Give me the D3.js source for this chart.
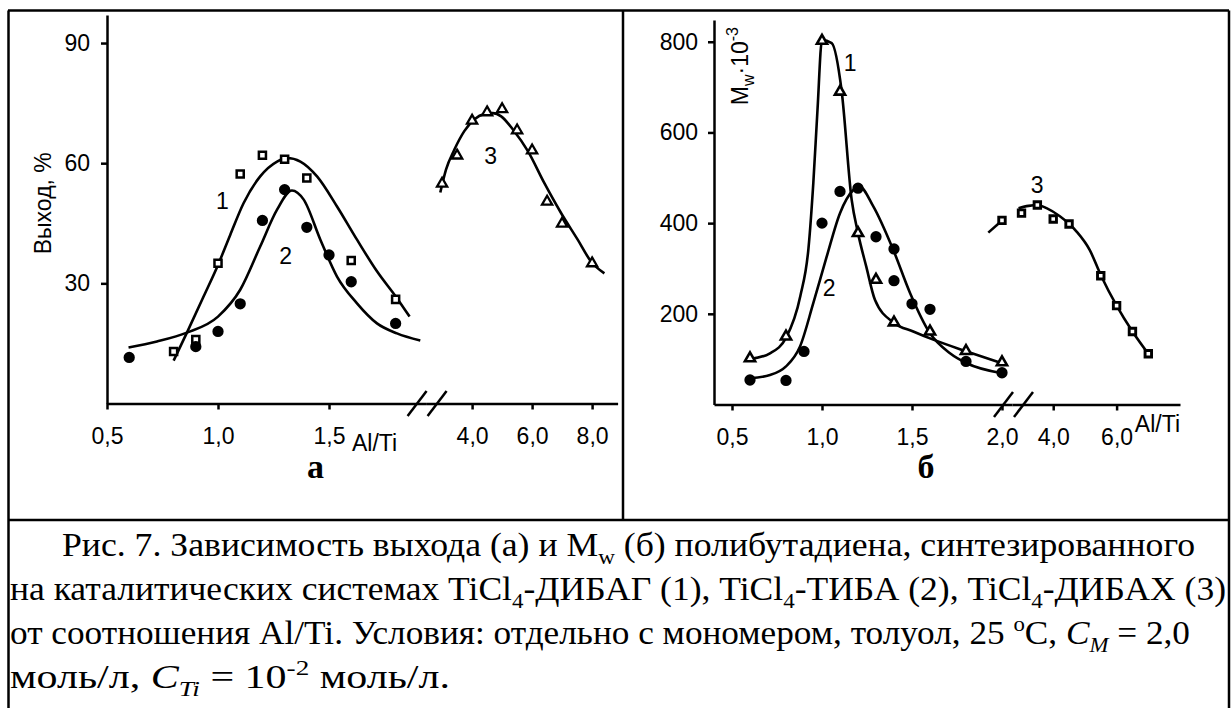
<!DOCTYPE html>
<html>
<head>
<meta charset="utf-8">
<script src="https://cdn.jsdelivr.net/npm/d3@7"></script>
<style>
  body { margin: 0; background: #fff; }
  svg { display: block; }
  .axis path, .axis line { stroke: #000; stroke-width: 2.5px; }
  .axis text { font-family: "Liberation Sans", Arial, sans-serif; font-size: 23px; fill: #000; }
  .lbl { font-family: "Liberation Sans", Arial, sans-serif; font-size: 23px; fill: #000; }
  .cap { font-family: "Liberation Serif", "Times New Roman", serif; font-size: 34px; fill: #000; }
</style>
</head>
<body>
<svg id="chart" width="1232" height="708"></svg>
<script>

// ---- panel а : yield, % ----
// curve 1 (squares) TiCl4-ДИБАГ
const sqA_x = [0.8, 0.9, 1.0, 1.1, 1.2, 1.3, 1.4, 1.6, 1.8];
const sqA_y = [13, 16, 35, 57.3, 62, 61, 56.3, 35.7, 26];
const fit1A_x = [0.8, 0.86, 0.935, 1.0, 1.055, 1.115, 1.19, 1.266, 1.311, 1.371, 1.446, 1.536, 1.626, 1.716, 1.806, 1.863];
const fit1A_y = [10.7, 17.7, 26.7, 34.6, 42.1, 50, 56.7, 60.4, 61.3, 60.4, 56.7, 49.2, 40.9, 33, 26.3, 21.7];

// curve 2 (circles) TiCl4-ТИБА
const ciA_x = [0.6, 0.9, 1.0, 1.1, 1.2, 1.3, 1.4, 1.5, 1.6, 1.8];
const ciA_y = [11.5, 14.2, 18, 24.9, 45.7, 53.4, 44, 37.1, 30.4, 20];
const fit2A_x = [0.597, 0.725, 0.86, 1.0, 1.1, 1.19, 1.266, 1.333, 1.386, 1.461, 1.536, 1.626, 1.716, 1.806, 1.911];
const fit2A_y = [14, 15.5, 17.7, 21.7, 28.4, 39.2, 48.4, 53.2, 50.9, 40.9, 31.7, 25, 20, 17.5, 15.7];

// curve 3 (triangles) TiCl4-ДИБАХ, right part of broken axis
const trA_x = [3.0, 3.5, 4.0, 4.5, 5.0, 5.5, 6.0, 6.5, 7.0, 8.0];
const trA_y = [54.9, 61.9, 70.6, 72.7, 73.5, 68.2, 63.2, 50.4, 44.9, 35];
const fit3A_x = [2.94, 3.13, 3.41, 3.74, 4.08, 4.41, 4.69, 4.97, 5.36, 5.86, 6.41, 6.97, 7.52, 7.97, 8.41];
const fit3A_y = [52.7, 58.4, 63.4, 68, 71, 72.3, 72.5, 71.7, 68.4, 63, 55, 47.5, 40.9, 35.4, 32.5];

// ---- panel б : Mw*10^-3 ----
// curve 1 (triangles)
const trB_x = [0.6, 0.8, 1.0, 1.1, 1.2, 1.3, 1.4, 1.6, 1.8, 2.0];
const trB_y = [102, 150, 802, 690, 378, 275, 181, 161, 118, 93];
const fit1B_x = [0.6, 0.711, 0.8, 0.88, 0.925, 0.952, 0.975, 1.0, 1.054, 1.109, 1.165, 1.2, 1.246, 1.294, 1.4, 1.507, 1.618, 1.804, 2.0];
const fit1B_y = [100, 113, 147, 240, 345, 490, 650, 804, 797, 692, 451, 378, 304, 231, 180, 161, 143, 117, 91];

// curve 2 (circles)
const ciB_x = [0.6, 0.8, 0.9, 1.0, 1.1, 1.2, 1.3, 1.4, 1.4, 1.5, 1.6, 1.8, 2.0];
const ciB_y = [54, 53, 117, 400, 470, 477, 370, 343, 273, 222, 210, 95, 70];
const fit2B_x = [0.6, 0.711, 0.8, 0.878, 0.952, 1.026, 1.1, 1.174, 1.207, 1.285, 1.396, 1.489, 1.6, 1.711, 1.804, 2.0];
const fit2B_y = [58, 65, 84, 128, 224, 326, 422, 473, 481, 437, 341, 246, 157, 113, 91, 69];

// curve 3 (squares): first point before the break, the rest after it
const sqB_left_x = [2.0];
const sqB_left_y = [406];
const sqB_x = [3.0, 3.5, 4.0, 4.5, 5.5, 6.0, 6.5, 7.0];
const sqB_y = [422, 440, 409, 398, 284, 218, 161, 112];
const fit3B_left_x = [1.924, 2.0];
const fit3B_left_y = [379, 406];
const fit3B_x = [2.906, 3.22, 3.5, 3.79, 4.21, 4.73, 5.15, 5.51, 6.0, 6.5, 7.02];
const fit3B_y = [433, 438, 440, 433, 415, 382, 341, 284, 218, 161, 110];

// tick values
const xTicksA_left = [0.5, 1.0, 1.5];
const xTicksA_right = [4.0, 6.0, 8.0];
const yTicksA = [30, 60, 90];
const xTicksB_left = [0.5, 1.0, 1.5, 2.0];
const xTicksB_right = [4.0, 6.0];
const yTicksB = [200, 400, 600, 800];

// curve number labels (data coords)
const labelsA = [{t: "1", x: 1.02, y: 50.5, s: "L"}, {t: "2", x: 1.305, y: 36.8, s: "L"}, {t: "3", x: 4.62, y: 61.7, s: "R"}];
const labelsB = [{t: "1", x: 1.156, y: 754, s: "L"}, {t: "2", x: 1.04, y: 258, s: "L"}, {t: "3", x: 3.49, y: 483, s: "R"}];

// caption
const captionLines = [
  [["Рис. 7. Зависимость выхода (а) и M"], ["w", "sub"], [" (б) полибутадиена, синтезированного"]],
  [["на каталитических системах TiCl"], ["4", "sub"], ["-ДИБАГ (1), TiCl"], ["4", "sub"], ["-ТИБА (2), TiCl"], ["4", "sub"], ["-ДИБАХ (3)"]],
  [["от соотношения Al/Ti. Условия: отдельно с мономером, толуол, 25 "], ["o", "sup"], ["C, "], ["C", "i"], ["M", "isub"], [" = 2,0"]],
  [["моль/л, "], ["C", "i"], ["Ti", "isub"], [" = 10"], ["-2", "sup"], [" моль/л."]]
];

const svg = d3.select("#chart");
const fmt1 = d3.formatLocale({decimal: ",", thousands: " ", grouping: [3], currency: ["", ""]}).format(".1f");

// scales
const xA1 = d3.scaleLinear().domain([0.5, 1.935]).range([107, 425.6]);
const xA2 = d3.scaleLinear().domain([2.45, 8.85]).range([425.6, 617.6]);
const yA = d3.scaleLinear().domain([0, 97]).range([403.5, 15]);

const xB1 = d3.scaleLinear().domain([0.4, 2.0556]).range([714, 1012]);
const xB2 = d3.scaleLinear().domain([2.7, 8.0]).range([1012, 1180]);
const yB = d3.scaleLinear().domain([0, 848]).range([404.5, 20]);

// table borders
const border = svg.append("g").attr("stroke", "#000").attr("stroke-width", 2.5);
border.append("line").attr("x1", 8).attr("x2", 1229).attr("y1", 10.5).attr("y2", 10.5);
border.append("line").attr("x1", 8.5).attr("x2", 8.5).attr("y1", 10.5).attr("y2", 708);
border.append("line").attr("x1", 1229).attr("x2", 1229).attr("y1", 10.5).attr("y2", 708);
border.append("line").attr("x1", 623).attr("x2", 623).attr("y1", 10.5).attr("y2", 520);
border.append("line").attr("x1", 8).attr("x2", 1229).attr("y1", 520).attr("y2", 520);

function drawAxes(xl, xr, y, ticksL, ticksR, ticksY, padY) {
  svg.append("g").attr("class", "axis")
    .attr("transform", `translate(0,${y(0)})`)
    .call(d3.axisBottom(xl).tickValues(ticksL).tickFormat(fmt1).tickSize(6).tickSizeOuter(0).tickPadding(18));
  svg.append("g").attr("class", "axis")
    .attr("transform", `translate(0,${y(0)})`)
    .call(d3.axisBottom(xr).tickValues(ticksR).tickFormat(fmt1).tickSize(6).tickSizeOuter(0).tickPadding(18));
  svg.append("g").attr("class", "axis")
    .attr("transform", `translate(${xl.range()[0]},0)`)
    .call(d3.axisLeft(y).tickValues(ticksY).tickFormat(d3.format("d")).tickSize(6).tickSizeOuter(0).tickPadding(padY));
  // break marks
  const bx = xr.range()[0] + 2, by = y(0);
  [[-20, 0], [0, 20]].forEach(o => {
    svg.append("line").attr("stroke", "#000").attr("stroke-width", 2.5)
      .attr("x1", bx + o[0]).attr("y1", by + 12.5)
      .attr("x2", bx + o[1] - 1).attr("y2", by - 12.5);
  });
}
drawAxes(xA1, xA2, yA, xTicksA_left, xTicksA_right, yTicksA, 11);
drawAxes(xB1, xB2, yB, xTicksB_left, xTicksB_right, yTicksB, 10);

function drawCurve(xs, ys, xs_, ys_) {
  const pts = d3.zip(xs, ys);
  svg.append("path")
    .attr("d", d3.line().x(d => xs_(d[0])).y(d => ys_(d[1])).curve(d3.curveMonotoneX)(pts))
    .attr("fill", "none").attr("stroke", "#000").attr("stroke-width", 2.6);
}
drawCurve(fit1A_x, fit1A_y, xA1, yA);
drawCurve(fit2A_x, fit2A_y, xA1, yA);
drawCurve(fit3A_x, fit3A_y, xA2, yA);
drawCurve(fit1B_x, fit1B_y, xB1, yB);
drawCurve(fit2B_x, fit2B_y, xB1, yB);
drawCurve(fit3B_left_x, fit3B_left_y, xB1, yB);
drawCurve(fit3B_x, fit3B_y, xB2, yB);

function drawMarkers(xs, ys, xs_, ys_, type, size, filled, sw) {
  svg.append("g").selectAll("path")
    .data(d3.zip(xs, ys))
    .enter().append("path")
      .attr("transform", d => `translate(${xs_(d[0])},${ys_(d[1])})`)
      .attr("d", d3.symbol().type(type).size(size))
      .attr("fill", filled ? "#000" : "#fff")
      .attr("stroke", "#000")
      .attr("stroke-width", filled ? 0 : sw);
}
drawMarkers(sqA_x, sqA_y, xA1, yA, d3.symbolSquare, 50, false, 2.5);
drawMarkers(ciA_x, ciA_y, xA1, yA, d3.symbolCircle, 100, true, 0);
drawMarkers(trA_x, trA_y, xA2, yA, d3.symbolTriangle, 45, false, 2.3);

drawMarkers(trB_x, trB_y, xB1, yB, d3.symbolTriangle, 45, false, 2.6);
drawMarkers(ciB_x, ciB_y, xB1, yB, d3.symbolCircle, 100, true, 0);
drawMarkers(sqB_left_x, sqB_left_y, xB1, yB, d3.symbolSquare, 42, false, 2.9);
drawMarkers(sqB_x, sqB_y, xB2, yB, d3.symbolSquare, 42, false, 2.9);

// curve numbers
function drawLabels(list, xl, xr, y) {
  list.forEach(l => {
    svg.append("text").attr("class", "lbl")
      .attr("x", (l.s === "L" ? xl : xr)(l.x)).attr("y", y(l.y))
      .attr("text-anchor", "middle").attr("dominant-baseline", "central")
      .text(l.t);
  });
}
drawLabels(labelsA, xA1, xA2, yA);
drawLabels(labelsB, xB1, xB2, yB);

// axis titles
svg.append("text").attr("class", "lbl")
  .attr("transform", `translate(51,${yA(50)}) rotate(-90)`)
  .attr("text-anchor", "middle").text("Выход, %");
svg.append("text").attr("class", "lbl")
  .attr("x", xA1(1.5) + 23).attr("y", yA(0) + 47).text("Al/Ti");
svg.append("text").attr("class", "lbl")
  .attr("x", xB2.range()[1]).attr("y", yB(0) + 27).attr("text-anchor", "end").text("Al/Ti");

const mw = svg.append("text").attr("class", "lbl")
  .attr("transform", `translate(748,${yB(660)}) rotate(-90)`);
mw.append("tspan").text("M");
mw.append("tspan").attr("font-size", "16px").attr("dy", 6).text("w");
mw.append("tspan").attr("dy", -6).text("·10");
mw.append("tspan").attr("font-size", "16px").attr("dy", -10).text("-3");

// panel letters
svg.append("text").attr("class", "cap").attr("font-weight", "bold").attr("font-size", "32px")
  .attr("x", 315.5).attr("y", 478).attr("text-anchor", "middle").text("а");
svg.append("text").attr("class", "cap").attr("font-weight", "bold").attr("font-size", "32px")
  .attr("x", 926).attr("y", 478).attr("text-anchor", "middle").text("б");

// caption lines
const capX = [62, 10, 10, 10];
const capW = [1133, 1216, 1180, 440];
const capY = [556, 600, 644, 688];
captionLines.forEach((segs, i) => {
  const t = svg.append("text").attr("class", "cap")
    .attr("x", capX[i]).attr("y", capY[i])
    .attr("textLength", capW[i]).attr("lengthAdjust", "spacingAndGlyphs");
  let shift = 0;
  segs.forEach(s => {
    const kind = s[1] || "";
    let target = 0, fs = null, it = false;
    if (kind === "sub") { target = 8; fs = "22px"; }
    if (kind === "sup") { target = -13; fs = "22px"; }
    if (kind === "i") { it = true; }
    if (kind === "isub") { target = 8; fs = "22px"; it = true; }
    const ts = t.append("tspan").attr("dy", target - shift).text(s[0]);
    if (fs) ts.attr("font-size", fs);
    if (it) ts.attr("font-style", "italic");
    shift = target;
  });
});
</script>
</body>
</html>
